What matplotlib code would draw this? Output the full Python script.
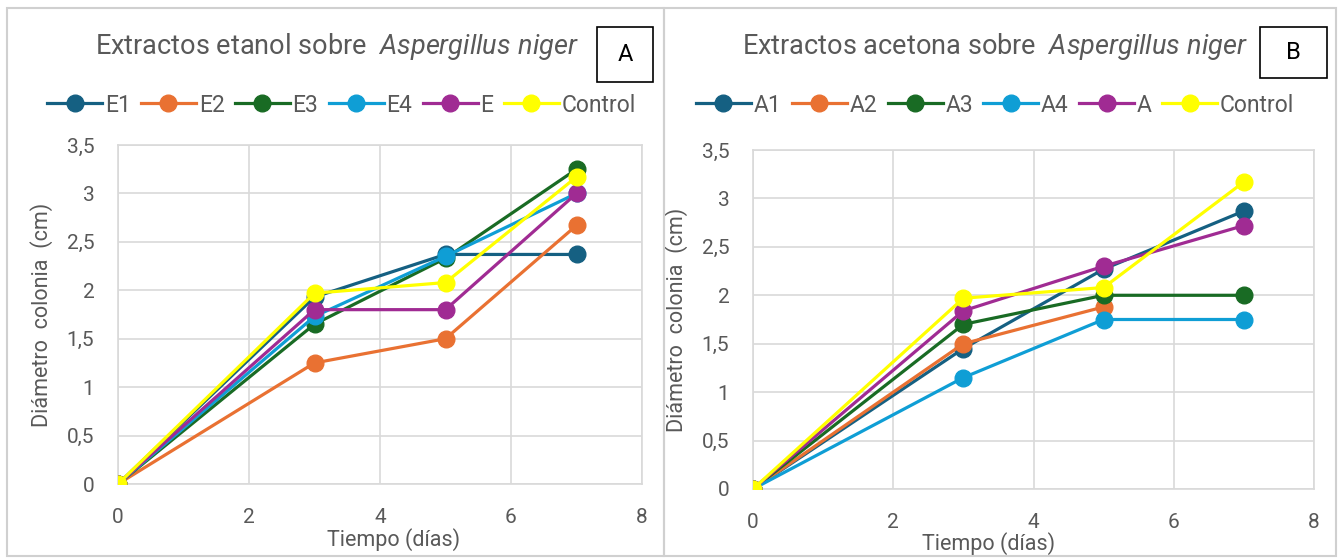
import matplotlib.pyplot as plt
import numpy as np
from matplotlib.patches import Rectangle

plt.rcParams['font.family'] = ['Roboto', 'DejaVu Sans']
plt.rcParams['mathtext.fontset'] = 'custom'
plt.rcParams['mathtext.it'] = 'Roboto:italic'

dias = [0, 3, 5, 7]

# Extractos etanol (panel A)
e1 = [0, 1.93, 2.37, 2.37]
e2 = [0, 1.25, 1.50, 2.67]
e3 = [0, 1.65, 2.33, 3.25]
e4 = [0, 1.73, 2.35, 3.00]
e = [0, 1.80, 1.80, 3.00]
control_e = [0, 1.97, 2.08, 3.17]

# Extractos acetona (panel B)
a1 = [0, 1.45, 2.27, 2.87]
a2 = [0, 1.50, 1.88, np.nan]
a3 = [0, 1.70, 2.00, 2.00]
a4 = [0, 1.15, 1.75, 1.75]
a = [0, 1.84, 2.30, 2.72]
control_a = [0, 1.97, 2.08, 3.17]

colores = ['#156082', '#E97132', '#196B24', '#0F9ED5', '#A02B93', '#FFFF00']
gris = '#595959'

W, H = 1338, 560
fig = plt.figure(figsize=(W / 100, H / 100), dpi=100)

# marcos de cada grafico
for x0, x1 in [(7, 664), (664, 1336)]:
    fig.patches.append(Rectangle((x0 / W, 1 - 556 / H), (x1 - x0) / W, 548 / H,
                                 transform=fig.transFigure, fill=False,
                                 edgecolor='#d0d0d0', lw=1.5))


def panel(rect, series, nombres, titulo, letra, title_x, leg_x, xlab, box):
    l, t, r, b = rect
    ax = fig.add_axes([l / W, 1 - b / H, (r - l) / W, (b - t) / H])
    for ys, nom, c in zip(series, nombres, colores):
        ax.plot(dias, ys, color=c, lw=2.3, marker='o', ms=12,
                label=nom, zorder=3)
    ax.set_xlim(0, 8)
    ax.set_ylim(0, 3.5)
    ax.set_xticks(range(0, 9, 2))
    yt = np.arange(0, 3.6, 0.5)
    ax.set_yticks(yt)
    ax.set_yticklabels([f'{v:g}'.replace('.', ',') for v in yt])
    ax.grid(color='#d9d9d9', lw=1.2)
    ax.set_axisbelow(True)
    for s in ax.spines.values():
        s.set_color('#d9d9d9')
        s.set_linewidth(1.2)
    ax.tick_params(length=0, labelsize=15, colors=gris)
    ax.tick_params(axis='y', pad=17)
    ax.tick_params(axis='x', pad=17)
    ax.set_xlabel('Tiempo (días)', fontsize=15.5, color=gris)
    ax.xaxis.set_label_coords((xlab[0] - l) / (r - l), -(xlab[1] - b) / (b - t),
                              transform=ax.transAxes)
    ax.xaxis.label.set_va('center')
    ax.set_ylabel('Diámetro  colonia  (cm)', fontsize=15.5, color=gris, labelpad=10)
    ax.legend(loc='center left', bbox_to_anchor=(leg_x / W, 1 - 105 / H),
              bbox_transform=fig.transFigure, ncol=6, frameon=False,
              fontsize=16.5, labelcolor=gris, handlelength=2.4,
              columnspacing=0.45, handletextpad=0.12, borderaxespad=0,
              borderpad=0)
    fig.text(title_x / W, 1 - 47 / H, titulo + '  $\\mathit{Aspergillus\\ niger}$',
             fontsize=19.5, color=gris, va='center')
    bx0, by0, bx1, by1 = box
    fig.patches.append(Rectangle((bx0 / W, 1 - by1 / H), (bx1 - bx0) / W,
                                 (by1 - by0) / H, transform=fig.transFigure,
                                 fill=False, edgecolor='black', lw=1.2))
    fig.text((bx0 + bx1) / 2 / W, 1 - (by0 + by1) / 2 / H, letra,
             fontsize=17, ha='center', va='center')
    return ax


panel((118, 145, 642, 484), [e1, e2, e3, e4, e, control_e],
      ['E1', 'E2', 'E3', 'E4', 'E', 'Control'],
      'Extractos etanol sobre', 'A', 95, 47, (394, 540), (597, 27, 653, 82))
panel((753, 150, 1314, 489), [a1, a2, a3, a4, a, control_a],
      ['A1', 'A2', 'A3', 'A4', 'A', 'Control'],
      'Extractos acetona sobre', 'B', 742, 696, (989, 544), (1260, 27, 1327, 78))

fig.savefig('out.png', dpi=100)
